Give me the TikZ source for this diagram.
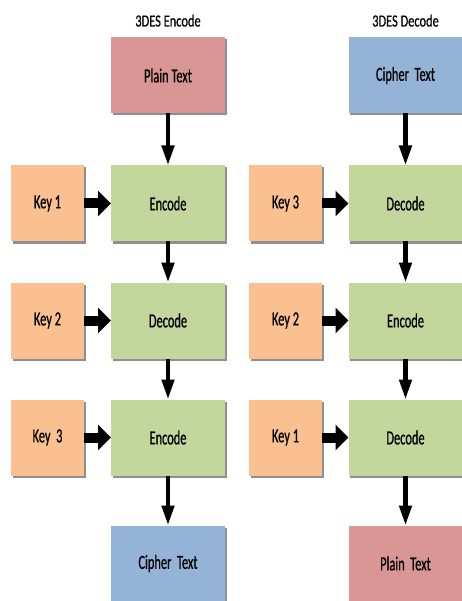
\documentclass[tikz,border=0pt]{standalone}
\usepackage{fontspec}
\setmainfont{Carlito}
\newfontfamily\boxfont[FakeStretch=0.62, FakeBold=0.6]{Carlito}
\newfontfamily\titlefont[FakeStretch=0.73, FakeBold=0.6]{Carlito}
\usepackage{xcolor}
\definecolor{pink}{HTML}{D99694}
\definecolor{blue}{HTML}{95B3D7}
\definecolor{green}{HTML}{C3D69B}
\definecolor{orange}{HTML}{FAC090}
\usetikzlibrary{positioning, arrows.meta, shadows}
\tikzstyle{box} = [rectangle, minimum height=76pt, outer sep=0pt, text=black, font=\boxfont\fontsize{20}{22}\selectfont, drop shadow={shadow xshift=1.5pt, shadow yshift=-2pt, fill=black!55, opacity=0.8}]
\tikzstyle{bigbox} = [box, minimum width=114pt]
\tikzstyle{keybox} = [box, minimum width=73pt, fill=orange]
\tikzstyle{title} = [font=\titlefont\fontsize{17}{19}\selectfont, anchor=base, inner sep=0pt]
\tikzstyle{down} = [line width=4.5pt, -{Triangle[width=12pt, length=20pt]}]
\tikzstyle{keyin} = [line width=10pt, -{Triangle[width=25pt, length=13pt]}]

\begin{document}
\begin{tikzpicture}[x=1pt, y=1pt]
	\useasboundingbox (0,0) rectangle (462,-601);
	%encode column
	\node[bigbox, fill=pink] (plainA) at (168,-75.5) {Plain Text};
	\node[bigbox, fill=green, below=52pt of plainA] (encA1) {Encode};
	\node[bigbox, fill=green, below=41pt of encA1] (decA2) {Decode};
	\node[bigbox, fill=green, below=41pt of decA2] (encA3) {Encode};
	\node[bigbox, fill=blue, below=50pt of encA3] (cipherA) {Cipher\ \ Text};
	\node[keybox, left=27pt of encA1] (keyA1) {Key 1};
	\node[keybox, left=27pt of decA2] (keyA2) {Key 2};
	\node[keybox, left=27pt of encA3] (keyA3) {Key\ \ 3};
	
	%decode column
	\node[bigbox, fill=blue, right=123.5pt of plainA] (cipherB) {Cipher\ \ Text};
	\node[bigbox, fill=green, below=52pt of cipherB] (decB1) {Decode};
	\node[bigbox, fill=green, below=41pt of decB1] (encB2) {Encode};
	\node[bigbox, fill=green, below=41pt of encB2] (decB3) {Decode};
	\node[bigbox, fill=pink, below=50pt of decB3] (plainB) {Plain\ \ Text};
	\node[keybox, left=26.5pt of decB1] (keyB1) {Key 3};
	\node[keybox, left=26.5pt of encB2] (keyB2) {Key 2};
	\node[keybox, left=26.5pt of decB3] (keyB3) {Key 1};
	
	%labels
	\node[title] (encTitle) at ([yshift=11pt]plainA.north) {3DES Encode};
	\node[title] (decTitle) at ([yshift=11pt]cipherB.north) {3DES Decode};
	
	%arrows
	\draw[down] (plainA) -- (encA1);
	\draw[down] (encA1) -- (decA2);
	\draw[down] (decA2) -- (encA3);
	\draw[down] (encA3) -- (cipherA);
	\draw[down] (cipherB) -- (decB1);
	\draw[down] (decB1) -- (encB2);
	\draw[down] (encB2) -- (decB3);
	\draw[down] (decB3) -- (plainB);
	\draw[keyin] (keyA1) -- (encA1);
	\draw[keyin] (keyA2) -- (decA2);
	\draw[keyin] (keyA3) -- (encA3);
	\draw[keyin] (keyB1) -- (decB1);
	\draw[keyin] (keyB2) -- (encB2);
	\draw[keyin] (keyB3) -- (decB3);
\end{tikzpicture}
\end{document}
